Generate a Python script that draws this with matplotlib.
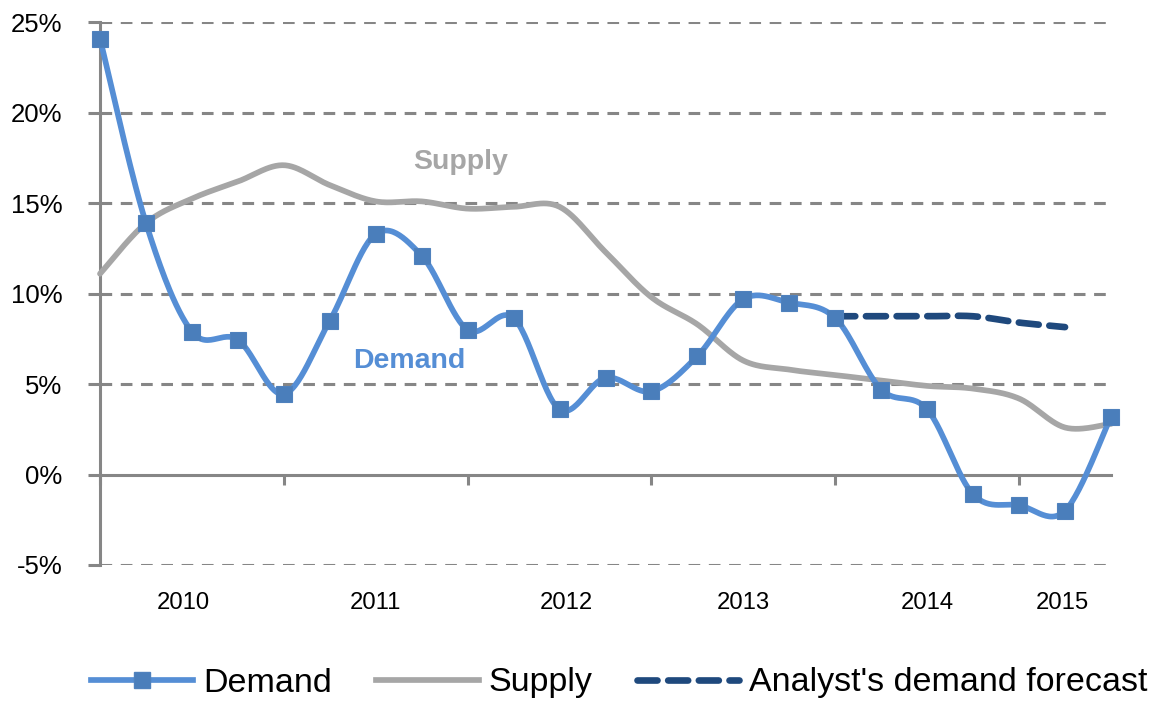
import numpy as np
import matplotlib
matplotlib.use("Agg")
import matplotlib.pyplot as plt
from matplotlib.lines import Line2D

plt.rcParams['font.family'] = ['Liberation Sans', 'DejaVu Sans']

# ---- data (quarterly, 2009Q4 .. 2015Q2) ----
demand = [24.1, 13.9, 7.9, 7.45, 4.45, 8.5, 13.3, 12.1, 8.0, 8.65, 3.6, 5.35,
          4.6, 6.55, 9.7, 9.5, 8.65, 4.7, 3.6, -1.1, -1.7, -2.0, 3.2]
supply = [11.1, 13.9, 15.25, 16.2, 17.1, 16.0, 15.1, 15.1, 14.7, 14.8, 14.8, 12.3,
          9.8, 8.3, 6.3, 5.8, 5.5, 5.2, 4.9, 4.75, 4.2, 2.6, 2.8]
forecast_start = 16
forecast = [8.75, 8.75, 8.75, 8.75, 8.4, 8.15]
year_labels = ['2010', '2011', '2012', '2013', '2014', '2015']
year_label_pos = [1.82, 6.0, 10.15, 14.0, 18.0, 20.95]
year_tick_pos = [0, 4, 8, 12, 16, 20]
yticks = [-5, 0, 5, 10, 15, 20, 25]

BLUE = '#558ED5'
MARK = '#4A7EBB'
GREY = '#A6A6A6'
NAVY = '#1F497D'
AXG = '#868686'


def smooth(xs, ys, n=30):
    xs = np.asarray(xs, float)
    ys = np.asarray(ys, float)
    P = np.column_stack([xs, ys])
    out = [P[0]]
    for i in range(len(P) - 1):
        p0 = P[i - 1] if i > 0 else P[i]
        p1 = P[i]
        p2 = P[i + 1]
        p3 = P[i + 2] if i + 2 < len(P) else P[i + 1]
        c1 = p1 + (p2 - p0) / 6.0
        c2 = p2 - (p3 - p1) / 6.0
        t = np.linspace(0, 1, n)[1:, None]
        seg = ((1 - t) ** 3) * p1 + 3 * ((1 - t) ** 2) * t * c1 + 3 * (1 - t) * t ** 2 * c2 + t ** 3 * p2
        out.extend(seg)
    out = np.array(out)
    return out[:, 0], out[:, 1]


fig = plt.figure(figsize=(11.6, 7.02), dpi=100)
ax = fig.add_axes([100 / 1160, 1 - 565 / 702, 1011 / 1160, 542.7 / 702])

x = np.arange(len(demand))
xf = np.arange(forecast_start, forecast_start + len(forecast))

# gridlines
GW = 2.2
for v in yticks:
    if v == 0:
        continue
    ax.axhline(v, color=AXG, lw=GW, dashes=(8.4 / GW, 6.2 / GW), zorder=1)

sx, sy = smooth(x, supply)
ax.plot(sx, sy, color=GREY, lw=4.1, solid_capstyle='round', zorder=3, clip_on=False)

fx, fy = smooth(xf, forecast)
ax.plot(fx, fy, color=NAVY, lw=4.8, dashes=(3.0, 1.6), dash_capstyle='round', zorder=3, clip_on=False)

dx, dy = smooth(x, demand)
ax.plot(dx, dy, color=BLUE, lw=4.1, solid_capstyle='round', zorder=4, clip_on=False)
ax.plot(x, demand, linestyle='none', marker='s', markersize=12.2, markerfacecolor=MARK,
        markeredgecolor='#4F81BD', markeredgewidth=0.8, zorder=5, clip_on=False)

ax.set_xlim(0, 22)
ax.set_ylim(-5, 25)

# spines
for s in ['top', 'right']:
    ax.spines[s].set_visible(False)
ax.spines['left'].set_color(AXG)
ax.spines['left'].set_linewidth(GW)
ax.spines['bottom'].set_position(('data', 0))
ax.spines['bottom'].set_color(AXG)
ax.spines['bottom'].set_linewidth(GW)
ax.spines['bottom'].set_zorder(2)

ax.set_yticks(yticks)
ax.set_yticklabels([f'{v}%' for v in yticks])
ax.tick_params(axis='y', direction='out', length=9, width=GW, color=AXG,
               labelsize=18.5, pad=18)
ax.set_xticks(year_tick_pos)
ax.set_xticklabels([])
ax.tick_params(axis='x', direction='out', length=7.5, width=GW, color=AXG)

for lab, p in zip(year_labels, year_label_pos):
    ax.text(p, -0.070, lab, transform=ax.get_xaxis_transform(), ha='center', va='center',
            fontsize=17.2, color='black')

ax.text(7.85, 17.3, 'Supply', color=GREY, fontsize=20.5, fontweight='bold', ha='center', va='center')
ax.text(6.74, 6.28, 'Demand', color=BLUE, fontsize=20.5, fontweight='bold', ha='center', va='center')

handles = [
    Line2D([], [], color=BLUE, lw=4.1, marker='s', markersize=12.2, markerfacecolor=MARK,
           markeredgecolor='#4F81BD'),
    Line2D([], [], color=GREY, lw=4.1),
    Line2D([], [], color=NAVY, lw=4.8, dashes=(3.0, 1.6), dash_capstyle='round'),
]
fig.legend(handles, ['Demand', 'Supply', "Analyst's demand forecast"], loc='center',
           bbox_to_anchor=(0.534, 1 - 683 / 702), ncol=3, frameon=False, fontsize=24.5,
           handlelength=3.0, handletextpad=0.3, columnspacing=1.3, numpoints=1,
           borderpad=0, borderaxespad=0)

fig.savefig('out.png', dpi=100)
